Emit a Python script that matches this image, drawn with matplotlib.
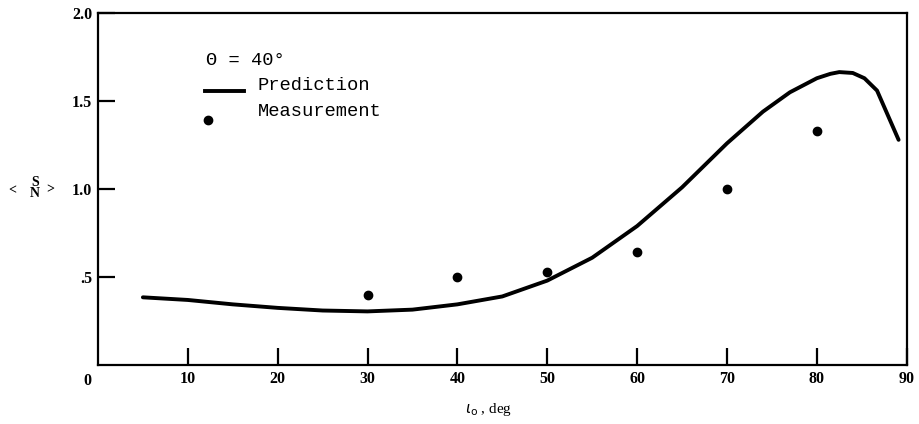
import matplotlib
matplotlib.use("Agg")
import matplotlib.pyplot as plt
import matplotlib.transforms as mtransforms

# prediction curve
pred_x = [5, 10, 15, 20, 25, 30, 35, 40, 45, 50, 55, 60, 65, 70, 74, 77, 80, 81.5, 82.5, 84,
          85.3, 86.7, 89.1]
pred_y = [0.385, 0.37, 0.345, 0.325, 0.31, 0.305, 0.315, 0.345, 0.39, 0.48, 0.61, 0.79, 1.01,
          1.26, 1.44, 1.55, 1.63, 1.655, 1.665, 1.66, 1.63, 1.56, 1.28]

# measurements
meas_x = [30, 40, 50, 60, 70, 80]
meas_y = [0.40, 0.50, 0.53, 0.64, 1.00, 1.33]

xtick_vals = [10, 20, 30, 40, 50, 60, 70, 80, 90]
ytick_vals = [0.5, 1.0, 1.5, 2.0]
ytick_labels = [".5", "1.0", "1.5", "2.0"]

fig = plt.figure(figsize=(9.19, 4.24), dpi=100)
ax = fig.add_axes([0.1066, 0.139, 0.880, 0.830])

ax.plot(pred_x, pred_y, color="black", linewidth=2.8, solid_capstyle="round")
ax.plot(meas_x, meas_y, "o", color="black", markersize=6)

ax.set_xlim(0, 90)
ax.set_ylim(0, 2.0)

tick_font = dict(family="Liberation Serif", size=11.5, weight="bold")
ax.set_xticks(xtick_vals)
ax.set_xticklabels([str(v) for v in xtick_vals], **tick_font)
ax.set_yticks(ytick_vals)
ax.set_yticklabels(ytick_labels, **tick_font)
ax.tick_params(axis="both", direction="in", length=12, width=1.6)
ax.tick_params(axis="x", pad=4)
ax.tick_params(axis="y", pad=4)
for s in ax.spines.values():
    s.set_linewidth(1.6)

# "0" at the corner
trans = mtransforms.blended_transform_factory(ax.transData, ax.transAxes)
ax.text(-1.2, -0.022, "0", transform=trans, ha="center", va="top", **tick_font)

# y label: < S/N >
ylab = dict(family="Liberation Serif", size=10, weight="bold")
fig.text(12 / 919, 1 - 191 / 424, "<", ha="center", va="center", **ylab)
fig.text(35 / 919, 1 - 182 / 424, "S", ha="center", va="center", **ylab)
fig.text(35 / 919, 1 - 194 / 424, "N", ha="center", va="center", **ylab)
fig.text(50 / 919, 1 - 190 / 424, ">", ha="center", va="center", **ylab)

# x label
fig.text(489 / 919, 1 - 409 / 424, r"$\iota_{\rm o}$ , deg", ha="center", va="center",
         family="Liberation Serif", size=11)

# legend block drawn by hand like the original
mono = dict(family="Liberation Mono", size=13.5)
ax.text(12.0, 1.73, "\u0398 = 40\u00b0", va="center", ha="left", **mono)
ax.plot([11.9, 16.3], [1.56, 1.56], color="black", linewidth=2.8, clip_on=False)
ax.text(17.8, 1.59, "Prediction", va="center", ha="left", **mono)
ax.plot([12.3], [1.39], "o", color="black", markersize=6)
ax.text(17.8, 1.44, "Measurement", va="center", ha="left", **mono)

fig.savefig("out.png", dpi=100)
